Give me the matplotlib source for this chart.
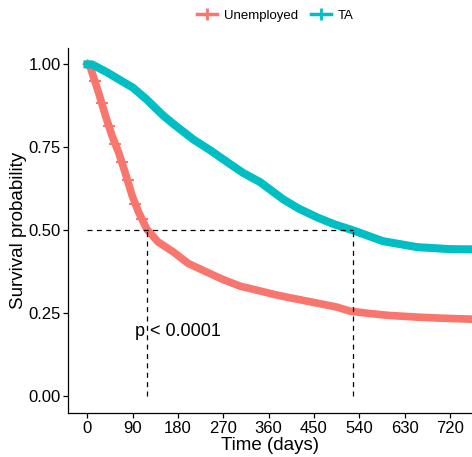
import numpy as np
import matplotlib
matplotlib.use('Agg')
import matplotlib.pyplot as plt
from matplotlib.lines import Line2D

plt.rcParams['font.family'] = ['Liberation Sans', 'DejaVu Sans']

# Kaplan-Meier curves
t_unemp = [0, 6, 22, 36, 49, 62, 75, 89, 102, 118, 140, 171, 200, 238, 270, 304,
           340, 369, 400, 437, 470, 496, 522, 560, 600, 655, 700, 760, 780]
s_unemp = [1.0, 0.99, 0.915, 0.844, 0.784, 0.734, 0.673, 0.603, 0.553, 0.503, 0.465,
           0.434, 0.40, 0.373, 0.351, 0.331, 0.318, 0.307, 0.297, 0.286, 0.276, 0.268,
           0.256, 0.249, 0.243, 0.238, 0.235, 0.232, 0.231]

t_ta = [0, 9, 40, 62, 90, 117, 151, 171, 210, 245, 278, 310, 343, 389, 420, 456,
        490, 527, 587, 655, 720, 780]
s_ta = [1.0, 1.0, 0.975, 0.955, 0.93, 0.895, 0.845, 0.82, 0.774, 0.74, 0.705,
        0.672, 0.645, 0.593, 0.565, 0.539, 0.518, 0.5, 0.467, 0.449, 0.443, 0.442]

# censoring marks seen on the steep part of the Unemployed curve
t_cens = [15, 28, 42, 55, 68, 80, 95, 108]
s_cens = [0.95, 0.885, 0.815, 0.76, 0.705, 0.65, 0.58, 0.535]

groups = ['Unemployed', 'TA']
colors = ['#F8766D', '#00BFC4']
medians = [119, 527]
x_ticks = [0, 90, 180, 270, 360, 450, 540, 630, 720]
y_ticks = [0.0, 0.25, 0.5, 0.75, 1.0]

fig = plt.figure(figsize=(4.72, 4.57), dpi=100)
ax = fig.add_axes([0.1448, 0.0956, 0.8552, 0.7984])

ax.plot(t_unemp, s_unemp, color=colors[0], lw=5.5, solid_joinstyle='round', zorder=2)
ax.plot(t_cens, s_cens, ls='none', marker='+', ms=8, mew=1.5, color=colors[0], zorder=2)
ax.plot(t_ta, s_ta, color=colors[1], lw=5.8, solid_joinstyle='round', zorder=2)

# median survival lines
ax.plot([0, max(medians)], [0.5, 0.5], color='black', lw=0.9, ls=(0, (4, 3.5)), zorder=3)
for m in medians:
    ax.plot([m, m], [0, 0.5], color='black', lw=0.9, ls=(0, (4, 3.5)), zorder=3)

ax.text(95, 0.196, 'p < 0.0001', fontsize=13, va='center', ha='left')

ax.set_xlim(-38, 764)
ax.set_ylim(-0.052, 1.048)
ax.set_xticks(x_ticks)
ax.set_yticks(y_ticks)
ax.set_yticklabels(['%.2f' % v for v in y_ticks])
ax.tick_params(labelsize=12, length=3.5, width=0.9, colors='black', pad=2)
for side in ['top', 'right']:
    ax.spines[side].set_visible(False)
for side in ['left', 'bottom']:
    ax.spines[side].set_linewidth(0.9)
ax.set_xlabel('Time (days)', fontsize=13.5, labelpad=1)
ax.set_ylabel('Survival probability', fontsize=13.5, labelpad=1)

handles = [Line2D([], [], color=c, lw=2.5, marker='+', ms=9, mew=2) for c in colors]
fig.legend(handles, groups, loc='upper center', bbox_to_anchor=(0.583, 1.005), ncol=2,
           frameon=False, fontsize=9.5, handlelength=1.5, handletextpad=0.5, columnspacing=1.0)

fig.savefig('out.png', dpi=100)
